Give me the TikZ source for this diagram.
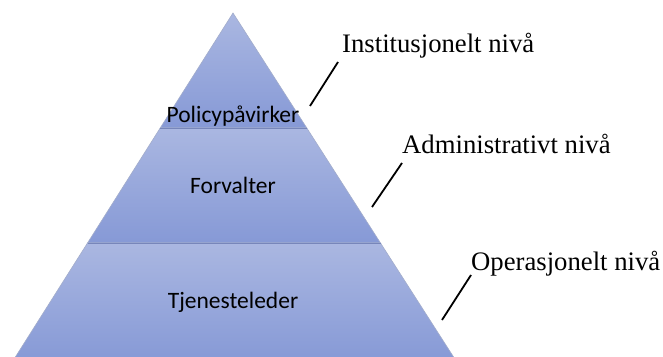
\documentclass[tikz,border=0pt]{standalone}
\usepackage{fontspec}
\setmainfont{Liberation Serif}
\newfontfamily\calibri{Carlito}
\usetikzlibrary{positioning}

\definecolor{bandtop}{HTML}{AAB7E1}
\definecolor{bandbot}{HTML}{8699D6}
\definecolor{bandline}{HTML}{7786BA}
\definecolor{edgeline}{HTML}{A3ADCB}

\begin{document}
\begin{tikzpicture}[x=1pt, y=-1pt,
    band/.style={top color=bandtop, bottom color=bandbot, draw=edgeline, line width=0.6pt},
    role/.style={font=\calibri\fontsize{23.5}{23.5}\selectfont, text=black, anchor=base},
    tier/.style={font=\fontsize{26.7}{26.7}\selectfont, anchor=base west, inner sep=0pt},
    leader/.style={line width=1.8pt}]

    \useasboundingbox (0,0) rectangle (663,356);

    % corners of the pyramid and its bands
    \coordinate (apex) at (233,13);
    \coordinate (l1) at (160.2,128);
    \coordinate (r1) at (306.8,128);
    \coordinate (l2) at (87.5,243);
    \coordinate (r2) at (380.5,243);
    \coordinate (bl) at (12.2,362);
    \coordinate (br) at (456.8,362);

    \draw[band] (apex) -- (r1) -- (l1) -- cycle;
    \draw[band] (l1) -- (r1) -- (r2) -- (l2) -- cycle;
    \draw[band] (l2) -- (r2) -- (br) -- (bl) -- cycle;
    \draw[bandline, line width=1pt] (l1) -- (r1);
    \draw[bandline, line width=1pt] (l2) -- (r2);

    \node[role] (policy) at (233,122) {Policypåvirker};
    \node[role] (forvalter) at (233,193) {Forvalter};
    \node[role] (tjeneste) at (233,308) {Tjenesteleder};

    \node[tier] (inst) at (342,52) {Institusjonelt nivå};
    \node[tier] (adm) at (402,153) {Administrativt nivå};
    \node[tier] (oper) at (471,270) {Operasjonelt nivå};

    % leader strokes
    \coordinate (inst-a) at (338,62);
    \coordinate (inst-b) at (310,106);
    \coordinate (adm-a) at (402,163);
    \coordinate (adm-b) at (372,207);
    \coordinate (oper-a) at (471,275);
    \coordinate (oper-b) at (442,320);

    \draw[leader] (inst-a) -- (inst-b);
    \draw[leader] (adm-a) -- (adm-b);
    \draw[leader] (oper-a) -- (oper-b);

\end{tikzpicture}
\end{document}
